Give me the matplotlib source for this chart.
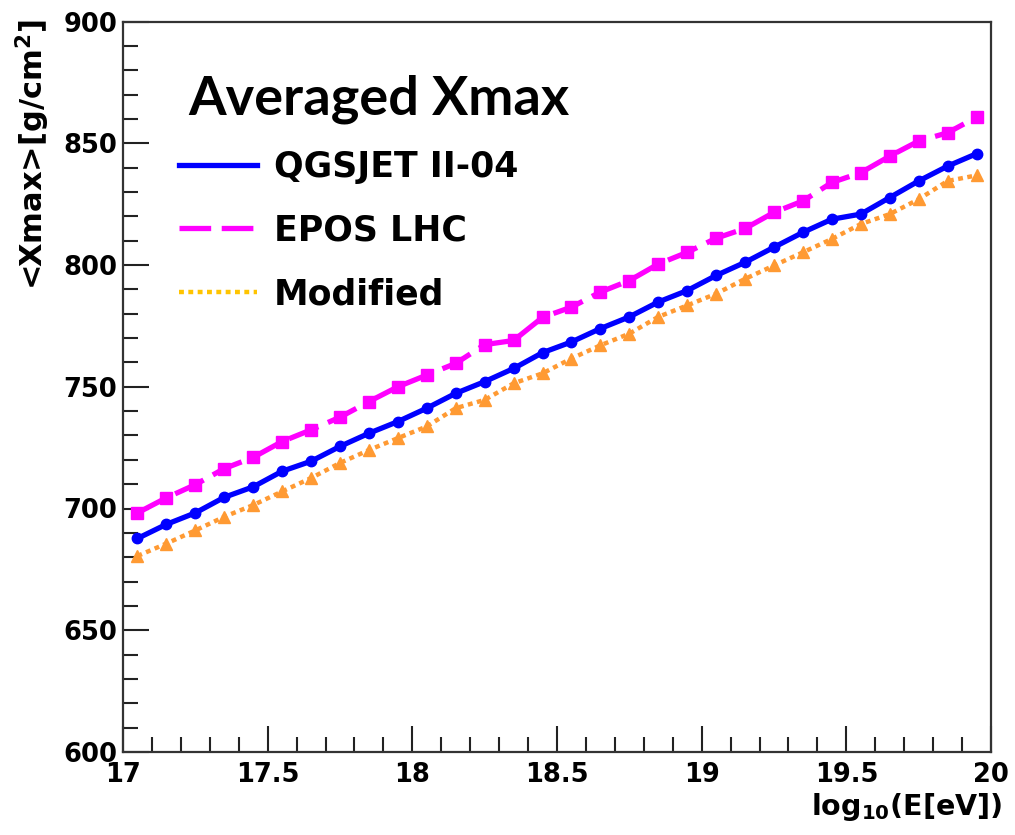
import matplotlib
matplotlib.use("Agg")
import matplotlib.pyplot as plt
from matplotlib.lines import Line2D
from matplotlib.ticker import MultipleLocator, FuncFormatter

# log10(E/eV) bin centres
log_energy = [17.05, 17.15, 17.25, 17.35, 17.45, 17.55, 17.65, 17.75, 17.85, 17.95,
              18.05, 18.15, 18.25, 18.35, 18.45, 18.55, 18.65, 18.75, 18.85, 18.95,
              19.05, 19.15, 19.25, 19.35, 19.45, 19.55, 19.65, 19.75, 19.85, 19.95]

# <Xmax> in g/cm^2 for each hadronic interaction model
xmax_qgsjet = [687.7, 693.5, 698.2, 704.6, 708.9, 715.3, 719.4, 725.5, 730.9, 735.7,
               741.2, 747.3, 752.1, 757.5, 764.0, 768.4, 773.9, 778.7, 784.8, 789.5,
               795.7, 801.1, 807.3, 813.4, 818.8, 820.9, 827.7, 834.5, 840.6, 845.7]
xmax_epos = [698.2, 704.4, 709.8, 716.4, 721.0, 727.5, 732.3, 737.5, 743.9, 750.0,
             754.8, 759.6, 767.3, 769.0, 778.5, 782.7, 788.9, 793.6, 800.4, 805.2,
             811.0, 815.0, 821.6, 826.3, 833.9, 837.9, 844.7, 850.9, 854.3, 860.7]
xmax_modified = [680.5, 685.6, 691.0, 696.6, 701.4, 707.0, 712.5, 718.7, 724.0, 728.9,
                 733.7, 741.2, 744.6, 751.4, 755.5, 761.6, 767.0, 771.8, 778.7, 783.4,
                 788.2, 794.3, 799.8, 805.2, 810.7, 816.8, 820.9, 827.0, 834.5, 836.8]

series_labels = ["QGSJET II-04", "EPOS LHC", "Modified"]

W, H = 1015, 835
fig = plt.figure(figsize=(W / 100, H / 100), dpi=100)
ax = fig.add_axes([123 / W, 1 - 752 / H, (991 - 123) / W, (752 - 21.5) / H])

blue = "#0000ff"
magenta = "#ff00ff"
orange = "#ff9a33"
legend_orange = "#ffc400"

ax.plot(log_energy, xmax_modified, color=orange, lw=3.2, ls=(0, (1.1, 1.0)),
        marker="^", ms=8, mec=orange, mfc=orange, zorder=2)
ax.plot(log_energy, xmax_epos, color=magenta, lw=3.8, ls=(0, (6, 2)),
        marker="s", ms=8.5, mec=magenta, mfc=magenta, zorder=3)
ax.plot(log_energy, xmax_qgsjet, color=blue, lw=3.8, ls="-",
        marker="o", ms=7.5, mec=blue, mfc=blue, zorder=4)

ax.set_xlim(17, 20)
ax.set_ylim(600, 900)
ax.xaxis.set_major_locator(MultipleLocator(0.5))
ax.xaxis.set_minor_locator(MultipleLocator(0.1))
ax.yaxis.set_major_locator(MultipleLocator(50))
ax.yaxis.set_minor_locator(MultipleLocator(10))
ax.xaxis.set_major_formatter(FuncFormatter(lambda v, p: f"{v:g}"))

ax.tick_params(which="both", direction="in", top=False, right=False,
               width=1.5, color="#222222")
ax.tick_params(which="major", length=19)
ax.tick_params(which="minor", length=10.5)
ax.tick_params(axis="y", which="major", pad=4)
ax.tick_params(axis="x", which="major", pad=7)
for lab in ax.get_xticklabels() + ax.get_yticklabels():
    lab.set_fontfamily("DejaVu Sans")
    lab.set_fontweight("bold")
    lab.set_fontsize(18.5)

for s in ax.spines.values():
    s.set_linewidth(1.6)
    s.set_color("#333333")

fig.text(33 / W, 1 - 19 / H, r"<Xmax>[g/cm$^{\mathbf{2}}$]", rotation=90,
         ha="center", va="top", fontfamily="DejaVu Sans", fontweight="bold",
         fontsize=22)
fig.text(1002 / W, 1 - 815 / H, r"log$_{\mathbf{10}}$(E[eV])", ha="right",
         va="baseline", fontfamily="DejaVu Sans", fontweight="bold", fontsize=20.5)

fig.text(188 / W, 1 - 115 / H, "Averaged Xmax", ha="left", va="baseline",
         fontfamily="Lato", fontweight="bold", fontsize=39)

handles = [
    Line2D([], [], color=blue, lw=3.8, ls="-"),
    Line2D([], [], color=magenta, lw=3.8, ls=(0, (6, 2))),
    Line2D([], [], color=legend_orange, lw=3.2, ls=(0, (1.1, 1.0))),
]
ax.legend(handles, series_labels, loc="upper left",
          bbox_to_anchor=(179 / W, 1 - 150 / H), bbox_transform=fig.transFigure,
          frameon=False, borderpad=0, borderaxespad=0, handlelength=2.25,
          handletextpad=0.48, labelspacing=0.85,
          prop={"family": "DejaVu Sans", "weight": "bold", "size": 25})

fig.savefig("out.png", dpi=100, facecolor="white")
